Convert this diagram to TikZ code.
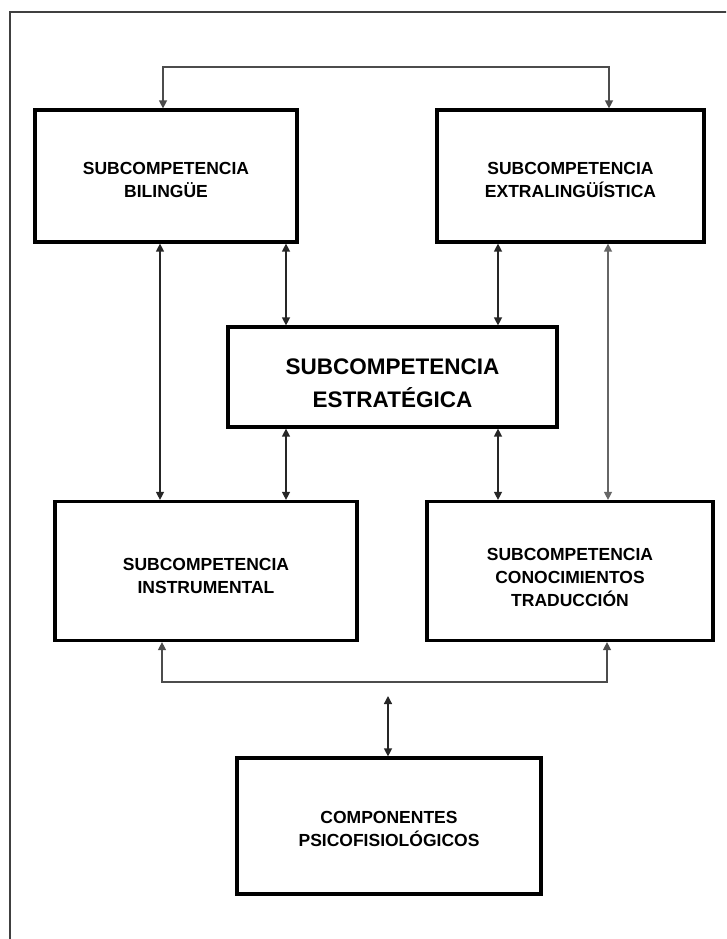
\documentclass[tikz,border=0pt]{standalone}
\usepackage{fontspec}
\setmainfont{Liberation Sans}
\usetikzlibrary{arrows.meta}
\begin{document}
\begin{tikzpicture}[x=1pt,y=-1pt,
  box/.style={draw=black, line width=3.2pt, fill=white, inner sep=0pt},
  txt/.style={inner sep=0pt, align=center, font=\bfseries\fontsize{17.5}{23}\selectfont},
  bigtxt/.style={txt, font=\bfseries\fontsize{22.5}{33}\selectfont},
  conn/.style={line width=1.3pt, draw=black!85},
  dbl/.style={conn, {Triangle[length=8pt,width=8pt]}-{Triangle[length=8pt,width=8pt]}},
  frame/.style={line width=2pt, draw=black!75}
]
\useasboundingbox (0,0) rectangle (726,939);
\clip (0,0) rectangle (726,939);
\draw[frame] (10,960) -- (10,12) -- (760,12);

\node[box, minimum width=262pt, minimum height=132pt] (bil) at (166,176) {};
\node[box, minimum width=267pt, minimum height=132pt] (ext) at (570.5,176) {};
\node[box, minimum width=329pt, minimum height=100pt] (est) at (392.5,377) {};
\node[box, minimum width=302pt, minimum height=139pt] (ins) at (206,571) {};
\node[box, minimum width=286pt, minimum height=139pt] (con) at (570,571) {};
\node[box, minimum width=304pt, minimum height=136pt] (psi) at (389,826) {};

\node[txt] (bilt) at ([yshift=-4pt]bil.center) {SUBCOMPETENCIA\\BILINGÜE};
\node[txt] (extt) at ([yshift=-4pt]ext.center) {SUBCOMPETENCIA\\EXTRALINGÜÍSTICA};
\node[bigtxt] (estt) at ([yshift=-6pt]est.center) {SUBCOMPETENCIA\\ESTRATÉGICA};
\node[txt] (inst) at ([yshift=-5pt]ins.center) {SUBCOMPETENCIA\\INSTRUMENTAL};
\node[txt] (cont) at ([yshift=-6pt]con.center) {SUBCOMPETENCIA\\CONOCIMIENTOS\\TRADUCCIÓN};
\node[txt] (psit) at ([yshift=-3pt]psi.center) {COMPONENTES\\PSICOFISIOLÓGICOS};

\coordinate (xa) at (160,0);
\coordinate (xb) at (286,0);
\coordinate (xc) at (498,0);
\coordinate (xd) at (608,0);
\coordinate (xt1) at (163,0);
\coordinate (xt2) at (609,0);
\coordinate (xb1) at (162,0);
\coordinate (xb2) at (607,0);
\coordinate (topc) at (386,67);
\coordinate (botc) at (388,682);
\coordinate (mid) at (388,696);

\draw[dbl] (bil.south -| xa) -- (ins.north -| xa);
\draw[dbl] (bil.south -| xb) -- (est.north -| xb);
\draw[dbl] (ext.south -| xc) -- (est.north -| xc);
\draw[dbl, draw=black!60] (ext.south -| xd) -- (con.north -| xd);
\draw[dbl] (est.south -| xb) -- (ins.north -| xb);
\draw[dbl] (est.south -| xc) -- (con.north -| xc);
\draw[dbl, draw=black!70] (bil.north -| xt1) |- (topc) -| (ext.north -| xt2);
\draw[dbl, draw=black!70] (ins.south -| xb1) |- (botc) -| (con.south -| xb2);
\draw[dbl] (mid) -- (psi.north -| mid);
\end{tikzpicture}
\end{document}
